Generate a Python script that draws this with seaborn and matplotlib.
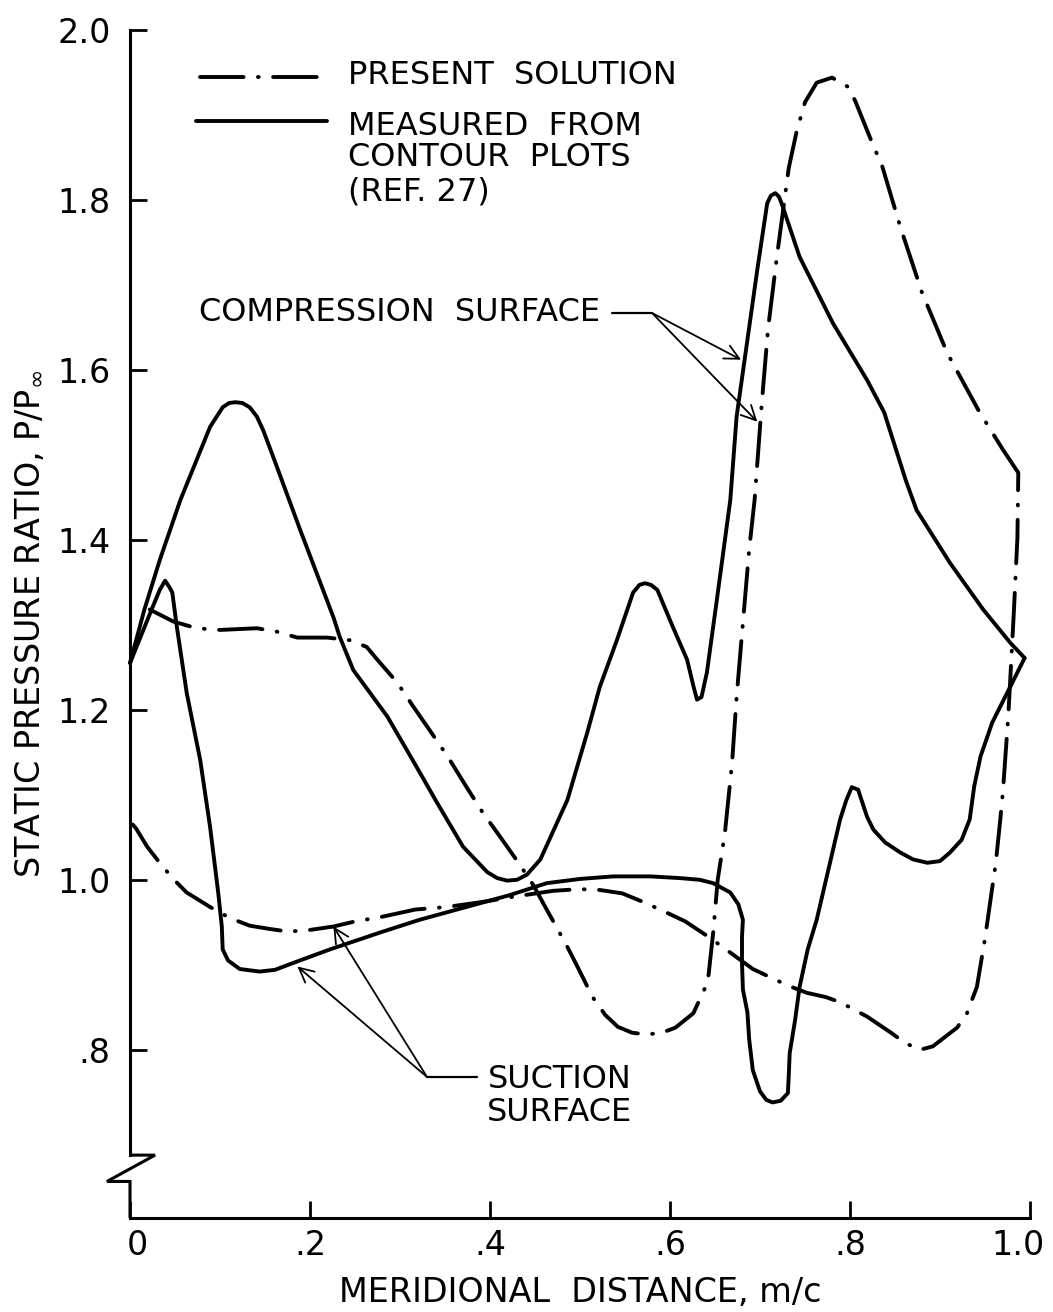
import numpy as np
import pandas as pd
import matplotlib
matplotlib.use("Agg")
import matplotlib.pyplot as plt
from matplotlib.transforms import ScaledTranslation
import seaborn as sns

# ---------------------------------------------------------------
# Static pressure ratio along the blade (m/c = meridional distance)
# ---------------------------------------------------------------

# measured (solid) - compression surface
meas_comp_x = [0.0, 0.016, 0.033, 0.056, 0.089, 0.103, 0.110, 0.117, 0.125, 0.133,
               0.141, 0.148, 0.159, 0.189, 0.226, 0.233, 0.248, 0.286, 0.314, 0.341,
               0.370, 0.397, 0.408, 0.419, 0.430, 0.441, 0.456, 0.486, 0.508, 0.522,
               0.541, 0.559, 0.566, 0.572, 0.579, 0.586, 0.603, 0.619, 0.626, 0.630,
               0.635, 0.641, 0.652, 0.667, 0.674, 0.697, 0.708, 0.712, 0.717, 0.721,
               0.724, 0.744, 0.781, 0.819, 0.838, 0.850, 0.862, 0.874, 0.911, 0.948,
               0.978, 0.994]
meas_comp_y = [1.255, 1.318, 1.376, 1.447, 1.533, 1.556, 1.561, 1.562, 1.561, 1.556,
               1.545, 1.529, 1.498, 1.412, 1.309, 1.286, 1.247, 1.192, 1.141, 1.091,
               1.039, 1.009, 1.002, 0.999, 1.000, 1.006, 1.024, 1.094, 1.173, 1.227,
               1.282, 1.338, 1.347, 1.349, 1.347, 1.341, 1.298, 1.259, 1.228, 1.212,
               1.215, 1.244, 1.329, 1.447, 1.545, 1.718, 1.796, 1.805, 1.808, 1.804,
               1.796, 1.733, 1.655, 1.588, 1.550, 1.510, 1.470, 1.435, 1.373, 1.318,
               1.279, 1.261]

# measured (solid) - suction surface
meas_suct_x = [0.0, 0.024, 0.033, 0.039, 0.044, 0.047, 0.052, 0.063, 0.078, 0.089,
               0.098, 0.102, 0.103, 0.109, 0.122, 0.144, 0.161, 0.181, 0.222, 0.278,
               0.322, 0.422, 0.463, 0.500, 0.537, 0.578, 0.611, 0.633, 0.648, 0.667,
               0.676, 0.681, 0.680, 0.680, 0.681, 0.686, 0.688, 0.692, 0.700, 0.707,
               0.714, 0.723, 0.731, 0.732, 0.733, 0.739, 0.744, 0.753, 0.763, 0.776,
               0.789, 0.796, 0.802, 0.809, 0.819, 0.826, 0.839, 0.856, 0.870, 0.886,
               0.900, 0.911, 0.924, 0.933, 0.938, 0.945, 0.958, 0.978, 0.994]
meas_suct_y = [1.255, 1.318, 1.341, 1.352, 1.344, 1.338, 1.298, 1.220, 1.141, 1.062,
               0.985, 0.945, 0.918, 0.905, 0.895, 0.892, 0.894, 0.902, 0.918, 0.938,
               0.953, 0.982, 0.996, 1.001, 1.004, 1.004, 1.002, 1.000, 0.996, 0.985,
               0.971, 0.953, 0.933, 0.902, 0.871, 0.844, 0.812, 0.776, 0.751, 0.741,
               0.738, 0.740, 0.749, 0.771, 0.796, 0.835, 0.874, 0.918, 0.953, 1.012,
               1.071, 1.094, 1.109, 1.106, 1.074, 1.059, 1.044, 1.032, 1.024, 1.020,
               1.022, 1.032, 1.047, 1.071, 1.110, 1.145, 1.185, 1.227, 1.261]

# present solution (dash-dot) - compression surface
calc_comp_x = [0.022, 0.048, 0.074, 0.100, 0.141, 0.163, 0.186, 0.219, 0.244, 0.263,
               0.274, 0.297, 0.314, 0.333, 0.353, 0.374, 0.392, 0.411, 0.431, 0.448,
               0.463, 0.486, 0.498, 0.514, 0.528, 0.542, 0.558, 0.574, 0.591, 0.606,
               0.626, 0.642, 0.648, 0.653, 0.661, 0.669, 0.674, 0.681, 0.688, 0.694,
               0.702, 0.709, 0.719, 0.732, 0.741, 0.750, 0.763, 0.780, 0.798, 0.806,
               0.822, 0.836, 0.856, 0.880, 0.908, 0.943, 0.970, 0.987]
calc_comp_y = [1.318, 1.304, 1.296, 1.294, 1.296, 1.292, 1.285, 1.285, 1.282, 1.274,
               1.260, 1.232, 1.205, 1.176, 1.145, 1.109, 1.079, 1.051, 1.021, 0.994,
               0.965, 0.921, 0.896, 0.862, 0.841, 0.827, 0.820, 0.818, 0.820, 0.826,
               0.843, 0.880, 0.938, 1.000, 1.055, 1.138, 1.215, 1.302, 1.389, 1.447,
               1.561, 1.649, 1.735, 1.838, 1.882, 1.915, 1.938, 1.944, 1.933, 1.916,
               1.874, 1.839, 1.768, 1.691, 1.620, 1.552, 1.506, 1.479]

# present solution (dash-dot) - suction surface
calc_suct_x = [0.003, 0.007, 0.019, 0.033, 0.048, 0.063, 0.089, 0.111, 0.133, 0.156,
               0.176, 0.200, 0.226, 0.250, 0.278, 0.317, 0.352, 0.392, 0.426, 0.470,
               0.500, 0.522, 0.547, 0.570, 0.597, 0.617, 0.644, 0.670, 0.692, 0.730,
               0.752, 0.773, 0.789, 0.819, 0.847, 0.861, 0.878, 0.892, 0.919, 0.930,
               0.941, 0.950, 0.962, 0.967, 0.970, 0.976, 0.982, 0.986, 0.987]
calc_suct_y = [1.065, 1.060, 1.039, 1.020, 1.001, 0.985, 0.968, 0.955, 0.946, 0.942,
               0.939, 0.941, 0.945, 0.951, 0.956, 0.965, 0.968, 0.974, 0.980, 0.987,
               0.989, 0.988, 0.984, 0.974, 0.961, 0.951, 0.932, 0.912, 0.895, 0.876,
               0.867, 0.862, 0.856, 0.839, 0.819, 0.808, 0.800, 0.804, 0.826, 0.843,
               0.874, 0.931, 1.020, 1.071, 1.105, 1.195, 1.314, 1.402, 1.479]

x_ticks = [0.0, 0.2, 0.4, 0.6, 0.8, 1.0]
x_tick_labels = ["0", ".2", ".4", ".6", ".8", "1.0"]
y_ticks = [0.8, 1.0, 1.2, 1.4, 1.6, 1.8, 2.0]
y_tick_labels = [".8", "1.0", "1.2", "1.4", "1.6", "1.8", "2.0"]

# ---------------------------------------------------------------
sns.set_style("ticks")
INK = "black"
plt.rcParams.update({
    "font.family": ["DejaVu Sans"],
    "mathtext.fontset": "dejavusans",
    "text.color": INK,
    "axes.labelcolor": INK,
    "xtick.color": INK,
    "ytick.color": INK,
    "xtick.labelcolor": INK,
    "ytick.labelcolor": INK,
})

LW = 2.8
DASHDOT = (0, (11.2, 3.7, 0.2, 3.7))

fig = plt.figure(figsize=(10.53, 13.12), dpi=100)
fig.patch.set_facecolor("white")
ax = fig.add_axes([130 / 1053, 94 / 1312, 900 / 1053, 1188 / 1312])
ax.set_facecolor("white")

curves = [
    (meas_comp_x, meas_comp_y, "-"),
    (meas_suct_x, meas_suct_y, "-"),
    (calc_comp_x, calc_comp_y, DASHDOT),
    (calc_suct_x, calc_suct_y, DASHDOT),
]
for xs, ys, style in curves:
    df = pd.DataFrame({"m_c": xs, "p_ratio": ys})
    sns.lineplot(data=df, x="m_c", y="p_ratio", ax=ax, sort=False,
                 estimator=None, color=INK, lw=LW, linestyle=style,
                 dash_capstyle="round", solid_capstyle="round",
                 solid_joinstyle="round", clip_on=False)

ax.set_xlim(0.0, 1.0)
ax.set_ylim(0.602, 2.0)

# axes: left spine broken near the origin, bottom spine full
for side in ("top", "right"):
    ax.spines[side].set_visible(False)
for side in ("left", "bottom"):
    ax.spines[side].set_linewidth(2.2)
    ax.spines[side].set_color(INK)
ax.spines["left"].set_bounds(0.676, 2.0)
ax.plot([0.0, 0.0278, -0.0256, 0.0, 0.0], [0.676, 0.676, 0.645, 0.645, 0.602],
        color=INK, lw=2.2, clip_on=False, solid_joinstyle="miter",
        solid_capstyle="butt")

ax.set_xticks(x_ticks)
ax.set_xticklabels(x_tick_labels)
ax.set_yticks(y_ticks)
ax.set_yticklabels(y_tick_labels)
ax.tick_params(axis="both", direction="in", length=12, width=2.0,
               colors=INK, labelsize=24)
ax.tick_params(axis="y", pad=14)
ax.tick_params(axis="x", pad=8)
# keep the end labels inside the frame like the drafted scale
xl = ax.get_xticklabels()
xl[0].set_transform(xl[0].get_transform() + ScaledTranslation(7 / 100, 0, fig.dpi_scale_trans))
xl[-1].set_transform(xl[-1].get_transform() + ScaledTranslation(-12 / 100, 0, fig.dpi_scale_trans))

ax.set_xlabel("MERIDIONAL  DISTANCE, m/c", fontsize=24, labelpad=10)
ax.set_ylabel(r"STATIC PRESSURE RATIO, P/P$_{\infty}$", fontsize=24, labelpad=8)

# key
ax.plot([0.078, 0.209], [1.945, 1.945], color=INK, lw=LW, linestyle=DASHDOT,
        dash_capstyle="round")
ax.plot([0.073, 0.219], [1.893, 1.893], color=INK, lw=LW)
key_fs = 23
ax.text(0.242, 1.946, "PRESENT  SOLUTION", fontsize=key_fs, va="center", ha="left")
ax.text(0.242, 1.886, "MEASURED  FROM", fontsize=key_fs, va="center", ha="left")
ax.text(0.242, 1.850, "CONTOUR  PLOTS", fontsize=key_fs, va="center", ha="left")
ax.text(0.242, 1.809, "(REF. 27)", fontsize=key_fs, va="center", ha="left")

# surface call-outs
arrow_kw = dict(arrowstyle="->", color=INK, lw=1.3, shrinkA=0, shrinkB=0,
                mutation_scale=26)
ax.text(0.522, 1.667, "COMPRESSION  SURFACE", fontsize=key_fs, va="center", ha="right")
ax.plot([0.536, 0.580], [1.667, 1.667], color=INK, lw=1.6)
ax.annotate("", xy=(0.679, 1.612), xytext=(0.580, 1.667), arrowprops=arrow_kw)
ax.annotate("", xy=(0.697, 1.539), xytext=(0.580, 1.667), arrowprops=arrow_kw)

ax.text(0.477, 0.765, "SUCTION", fontsize=key_fs, va="center", ha="center")
ax.text(0.477, 0.726, "SURFACE", fontsize=key_fs, va="center", ha="center")
ax.plot([0.330, 0.386], [0.768, 0.768], color=INK, lw=1.6)
ax.annotate("", xy=(0.186, 0.898), xytext=(0.330, 0.768), arrowprops=arrow_kw)
ax.annotate("", xy=(0.226, 0.945), xytext=(0.330, 0.768), arrowprops=arrow_kw)

fig.savefig("out.png", dpi=100, facecolor="white")
